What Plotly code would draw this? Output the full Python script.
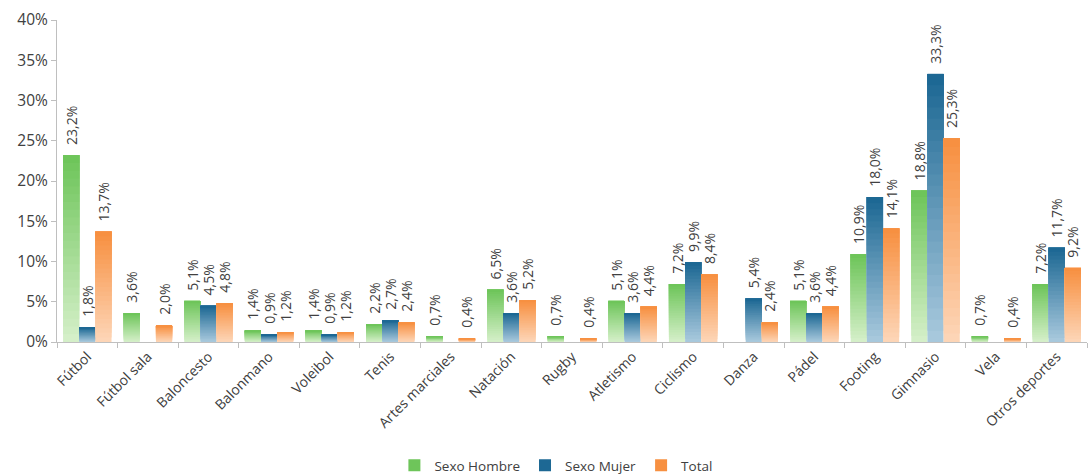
import plotly.graph_objects as go

categorias = ["Fútbol", "Fútbol sala", "Baloncesto", "Balonmano", "Voleibol", "Tenis",
              "Artes marciales", "Natación", "Rugby", "Atletismo", "Ciclismo", "Danza",
              "Pádel", "Footing", "Gimnasio", "Vela", "Otros deportes"]
sexo_hombre = [23.2, 3.6, 5.1, 1.4, 1.4, 2.2, 0.7, 6.5, 0.7, 5.1, 7.2, None, 5.1, 10.9, 18.8, 0.7, 7.2]
sexo_mujer = [1.8, None, 4.5, 0.9, 0.9, 2.7, None, 3.6, None, 3.6, 9.9, 5.4, 3.6, 18.0, 33.3, None, 11.7]
total = [13.7, 2.0, 4.8, 1.2, 1.2, 2.4, 0.4, 5.2, 0.4, 4.4, 8.4, 2.4, 4.4, 14.1, 25.3, 0.4, 9.2]

# (name, values, colour at bar base, colour at bar top)
series = [
    ("Sexo Hombre", sexo_hombre, (214, 240, 202), (108, 196, 88)),
    ("Sexo Mujer", sexo_mujer, (170, 202, 222), (26, 102, 146)),
    ("Total", total, (253, 214, 185), (247, 143, 62)),
]

N_SEG = 24  # overlapping layers used to shade each bar from light to dark


def mix(c0, c1, t):
    return "rgb({},{},{})".format(*[round(a + (b - a) * t) for a, b in zip(c0, c1)])


def fmt(v):
    # leading non-breaking spaces lift the rotated label a little above the bar
    return "" if v is None else "\u00a0\u00a0" + f"{v:.1f}".replace(".", ",") + "%"


fig = go.Figure()
for name, vals, c_low, c_high in series:
    for k in range(N_SEG):
        # each layer runs from its own start up to the bar top; later layers cover the earlier ones
        seg_base = [None if v is None else v * k / N_SEG for v in vals]
        seg_h = [None if v is None else v * (N_SEG - k) / N_SEG for v in vals]
        last = k == N_SEG - 1
        fig.add_trace(go.Bar(
            x=categorias,
            y=seg_h,
            base=seg_base,
            name=name,
            offsetgroup=name,
            legendgroup=name,
            showlegend=last,
            marker=dict(color=mix(c_low, c_high, (k + 0.5) / N_SEG), line=dict(width=0)),
            text=[fmt(v) for v in vals] if last else None,
            textposition="outside" if last else "none",
            textangle=-90,
            constraintext="none",
            textfont=dict(family="Open Sans", size=14, color="#404040"),
            cliponaxis=False,
            hoverinfo="skip",
        ))

fig.update_layout(
    width=1090,
    height=475,
    margin=dict(l=57, r=3, t=20, b=133, autoexpand=False),
    barmode="group",
    bargap=0.2,
    bargroupgap=0,
    plot_bgcolor="white",
    paper_bgcolor="white",
    font=dict(family="Open Sans", color="#404040"),
    legend=dict(
        orientation="h",
        xref="container", yref="container",
        x=0.51, xanchor="center",
        y=0.02, yanchor="middle",
        font=dict(size=13.5, color="#404040"),
        traceorder="normal",
        itemwidth=30,
        tracegroupgap=0,
    ),
    xaxis=dict(
        type="category",
        automargin=False,
        tickangle=-45,
        tickson="boundaries",
        ticks="outside",
        ticklen=5,
        tickcolor="#bfbfbf",
        showline=True,
        linecolor="#bfbfbf",
        showgrid=False,
        tickfont=dict(size=14, color="#404040"),
    ),
    yaxis=dict(
        automargin=False,
        range=[0, 40],
        dtick=5,
        ticksuffix="%",
        ticks="outside",
        ticklen=5,
        tickcolor="#bfbfbf",
        showline=True,
        linecolor="#bfbfbf",
        showgrid=False,
        zeroline=False,
        tickfont=dict(size=15.5, color="#404040"),
    ),
)

fig.write_html("out.html")
